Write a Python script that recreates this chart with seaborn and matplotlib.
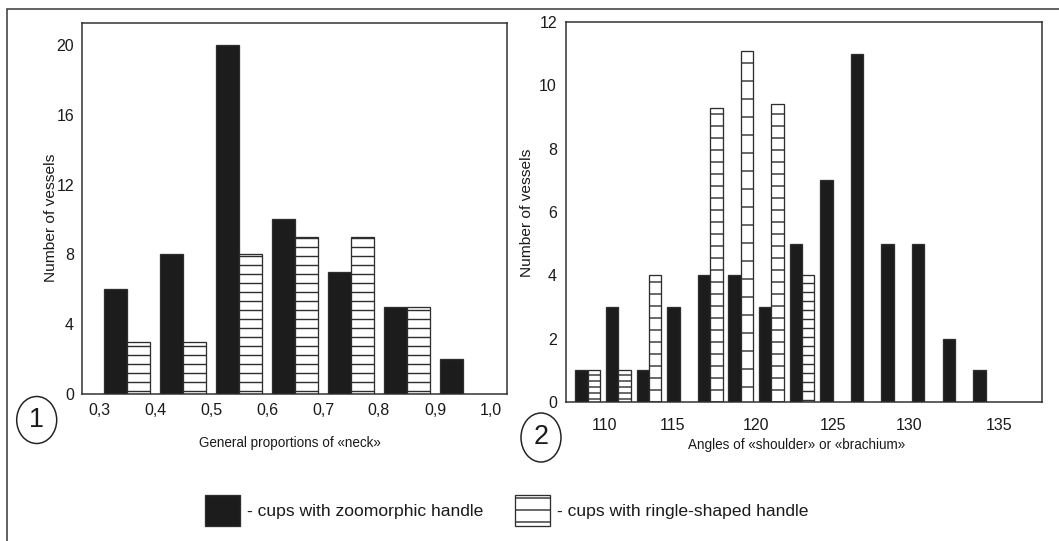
import numpy as np
import pandas as pd
import matplotlib
matplotlib.use("Agg")
import matplotlib.pyplot as plt
import seaborn as sns
from matplotlib.patches import Patch, Ellipse, Rectangle

# ---------------- data ----------------
neck_mid = [0.35, 0.45, 0.55, 0.65, 0.75, 0.85, 0.95]
neck_zoomorphic = [6, 8, 20, 10, 7, 5, 2]
neck_ringle = [3, 3, 8, 9, 9, 5, 0]
neck_tick_values = [0.3, 0.4, 0.5, 0.6, 0.7, 0.8, 0.9, 1.0]
neck_tick_labels = ["0,3", "0,4", "0,5", "0,6", "0,7", "0,8", "0,9", "1,0"]
neck_yticks = [0, 4, 8, 12, 16, 20]

angle_mid = [109, 111, 113, 115, 117, 119, 121, 123, 125, 127, 129, 131, 133, 135]
angle_zoomorphic = [1, 3, 1, 3, 4, 4, 3, 5, 7, 11, 5, 5, 2, 1]
angle_ringle = [1, 1, 4, 0, 9.3, 11.1, 9.4, 4, 0, 0, 0, 0, 0, 0]
angle_tick_labels = ["110", "115", "120", "125", "130", "135"]
angle_yticks = [0, 2, 4, 6, 8, 10, 12]

series_names = ["zoomorphic", "ringle"]
series_labels = ["- cups with zoomorphic handle", "- cups with ringle-shaped handle"]
panel_labels = ["1", "2"]
neck_xlabel = "General proportions of «neck»"
angle_xlabel = "Angles of «shoulder» or «brachium»"
ylabel = "Number of vessels"

# ---------------- styles / layout ----------------
angle_tick_pos = [110.1, 114.5, 120.0, 125.0, 130.0, 135.9]
neck_hatch = "----"
angle_ringle_hatch = ["------", "------", "---", "---", "---", "--", "---", "----",
                      "---", "---", "---", "---", "---", "---"]

DPI = 216
W, H = 1059, 541
BLACK = "#1b1c1b"
EDGE = "#2e2e2e"


def pt(px):
    return px * 72.0 / DPI


sns.set_style("white")
plt.rcParams["font.family"] = ["Liberation Sans", "DejaVu Sans"]
plt.rcParams["hatch.linewidth"] = pt(1.4)
plt.rcParams["hatch.color"] = EDGE

fig = plt.figure(figsize=(W / DPI, H / DPI), dpi=DPI)
fig.patch.set_facecolor("white")


def axes_px(l, t, r, b):
    return fig.add_axes([l / W, 1 - b / H, (r - l) / W, (b - t) / H])


ax1 = axes_px(82, 23, 507, 394)
ax2 = axes_px(566, 22, 1042, 402)

TICK_PT = pt(16)
XLABEL_PT = pt(13.5)
YLABEL_PT = pt(15.5)
TXT = "#1a1a1a"


def draw(ax, mids, zoo, ring, width, hatches):
    df = pd.DataFrame({
        "mid": list(mids) + list(mids),
        "count": list(zoo) + list(ring),
        "type": [series_names[0]] * len(mids) + [series_names[1]] * len(mids),
    })
    df = df[df["count"] > 0]
    sns.barplot(data=df, x="mid", y="count", hue="type", hue_order=series_names,
                native_scale=True, width=width,
                palette={series_names[0]: BLACK, series_names[1]: "white"},
                saturation=1, errorbar=None, legend=False,
                linewidth=pt(1.3), edgecolor=EDGE, ax=ax)
    mids_arr = np.asarray(mids, dtype=float)
    for bar in ax.patches:
        fc = bar.get_facecolor()
        if fc[0] > 0.5:
            cx = bar.get_x() + bar.get_width() / 2
            i = int(np.argmin(np.abs(mids_arr - cx)))
            bar.set_hatch(hatches[i])
            bar.set_edgecolor(EDGE)
    for s in ax.spines.values():
        s.set_visible(True)
        s.set_color(EDGE)
        s.set_linewidth(pt(1.5))
    ax.set_facecolor("white")
    ax.grid(False)


draw(ax1, neck_mid, neck_zoomorphic, neck_ringle, 0.82, [neck_hatch] * len(neck_mid))
ax1.set_xlim(0.2696, 1.0286)
ax1.set_ylim(0, 21.26)
ax1.set_xticks(neck_tick_values)
ax1.set_xticklabels(neck_tick_labels)
ax1.set_yticks(neck_yticks)
ax1.tick_params(axis="both", length=0, labelsize=TICK_PT, colors=TXT)
ax1.tick_params(axis="y", pad=pt(8))
ax1.tick_params(axis="x", pad=pt(9))
ax1.set_xlabel(neck_xlabel, fontsize=XLABEL_PT, color=TXT)
ax1.set_ylabel(ylabel, fontsize=YLABEL_PT, color=TXT)
ax1.xaxis.set_label_coords(0.4894, -0.1329)
ax1.xaxis.label.set_va("center")
ax1.yaxis.set_label_coords(-0.0736, 0.4744)
ax1.yaxis.label.set_va("center")

draw(ax2, angle_mid, angle_zoomorphic, angle_ringle, 0.81, angle_ringle_hatch)
ax2.set_xlim(107.57, 138.68)
ax2.set_ylim(0, 12)
ax2.set_xticks(angle_tick_pos)
ax2.set_xticklabels(angle_tick_labels)
ax2.set_yticks(angle_yticks)
ax2.tick_params(axis="both", length=0, labelsize=TICK_PT, colors=TXT)
ax2.tick_params(axis="y", pad=pt(9))
ax2.tick_params(axis="x", pad=pt(16.5))
ax2.set_xlabel(angle_xlabel, fontsize=XLABEL_PT, color=TXT)
ax2.set_ylabel(ylabel, fontsize=YLABEL_PT, color=TXT)
ax2.xaxis.set_label_coords(0.4853, -0.112)
ax2.xaxis.label.set_va("center")
ax2.yaxis.set_label_coords(-0.0826, 0.4987)
ax2.yaxis.label.set_va("center")

# panel number circles
for (cx, cy, ew, eh), lab in zip([(36.7, 420, 40, 47), (541, 437.5, 40, 49)], panel_labels):
    fig.add_artist(Ellipse((cx / W, 1 - cy / H), ew / W, eh / H, transform=fig.transFigure,
                           fill=False, edgecolor="#222222", linewidth=pt(1.5)))
    fig.text(cx / W, 1 - cy / H, lab, ha="center", va="center", fontsize=pt(27), color=TXT)

# outer frame
fig.add_artist(Rectangle((7 / W, -0.5), 2, 1.5 - 9 / H, transform=fig.transFigure,
                         fill=False, edgecolor="#333333", linewidth=pt(1.5)))

# legend
LEG_PX = 17.5
handles = [
    Patch(facecolor=BLACK, edgecolor=EDGE, linewidth=pt(1.3)),
    Patch(facecolor="white", edgecolor=EDGE, hatch="---", linewidth=pt(1.3)),
]
fig.legend(handles=handles, labels=series_labels, loc="center",
           bbox_to_anchor=(507 / W, 1 - 510.5 / H), ncol=2, frameon=False,
           fontsize=pt(LEG_PX), handlelength=35 / LEG_PX, handleheight=42 / LEG_PX,
           handletextpad=7 / LEG_PX, columnspacing=32 / LEG_PX,
           borderpad=0, borderaxespad=0, labelcolor=TXT)

fig.savefig("out.png", dpi=DPI, facecolor="white")
